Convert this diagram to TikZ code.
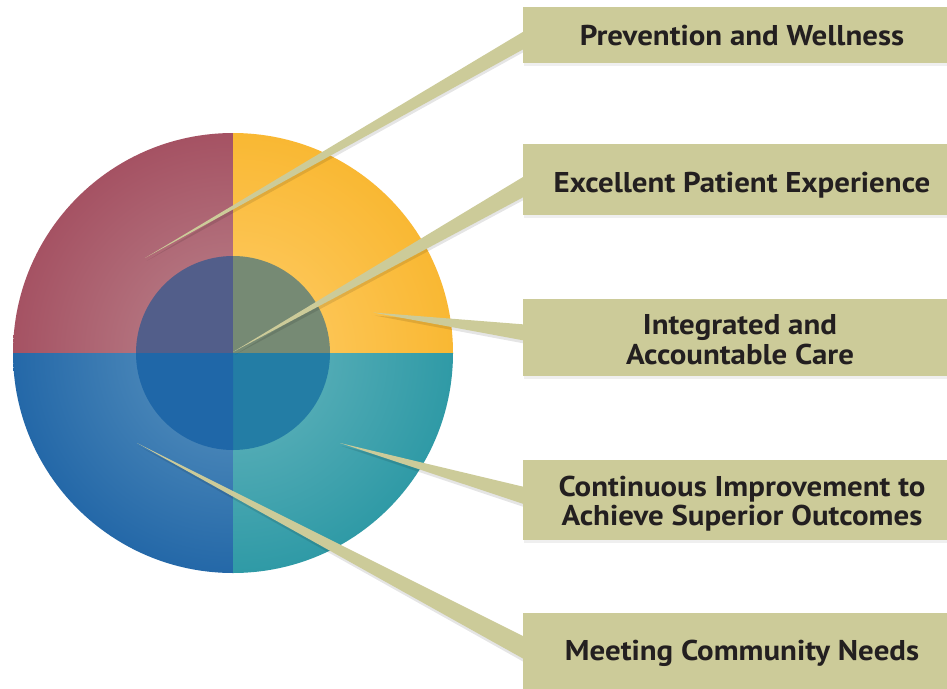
\documentclass[tikz,border=0pt]{standalone}
\usepackage{fontspec}
\setmainfont{PT Sans}[FakeStretch=1.08]
\usetikzlibrary{calc,shadows}
\definecolor{boxc}{HTML}{CCCB99}
\definecolor{txt}{HTML}{231F20}
\definecolor{tlL}{HTML}{B2707C}
\definecolor{tlD}{HTML}{A55263}
\definecolor{trL}{HTML}{FCC452}
\definecolor{trD}{HTML}{F9B833}
\definecolor{blL}{HTML}{4482B6}
\definecolor{blD}{HTML}{2468A8}
\definecolor{brL}{HTML}{50AAB4}
\definecolor{brD}{HTML}{2F9AA6}
\definecolor{itl}{HTML}{525E8A}
\definecolor{itr}{HTML}{768A74}
\definecolor{ibl}{HTML}{1F67A8}
\definecolor{ibr}{HTML}{237DA5}
\pgfdeclareradialshading{tlshade}{\pgfpoint{0bp}{0bp}}{color(0bp)=(tlL); color(11bp)=(tlL); color(25bp)=(tlD); color(50bp)=(tlD)}
\pgfdeclareradialshading{trshade}{\pgfpoint{0bp}{0bp}}{color(0bp)=(trL); color(11bp)=(trL); color(25bp)=(trD); color(50bp)=(trD)}
\pgfdeclareradialshading{blshade}{\pgfpoint{0bp}{0bp}}{color(0bp)=(blL); color(11bp)=(blL); color(25bp)=(blD); color(50bp)=(blD)}
\pgfdeclareradialshading{brshade}{\pgfpoint{0bp}{0bp}}{color(0bp)=(brL); color(11bp)=(brL); color(25bp)=(brD); color(50bp)=(brD)}
\pgfdeclarelayer{bg}
\pgfdeclarelayer{conn}
\pgfsetlayers{bg,conn,main}
\begin{document}
\begin{tikzpicture}[x=1pt,y=-1pt,
  box/.style={fill=boxc, minimum width=436pt, inner sep=0pt,
    drop shadow={opacity=.12, shadow xshift=1pt, shadow yshift=-3pt}},
  lbl/.style={text=txt, align=center, inner sep=0pt, anchor=base,
    font=\bfseries\fontsize{28.6}{29.5}\selectfont},
  wedge/.style={fill=boxc},
  wshadow/.style={fill=black, opacity=.10}]
\useasboundingbox (0,0) rectangle (947,688);
\coordinate (c) at (233,353);
\begin{pgfonlayer}{bg}
\fill[white] (0,0) rectangle (947,688);
% faint halo
\foreach \i in {1,...,15}
  \fill[black, opacity=.0012] (c) circle[radius=220+6*\i];
% outer ring quadrants
\begin{scope}\clip (c) rectangle ++(-221,-221);
  \shade[shading=tlshade] (c) circle[radius=220];\end{scope}
\begin{scope}\clip (c) rectangle ++(221,-221);
  \shade[shading=trshade] (c) circle[radius=220];\end{scope}
\begin{scope}\clip (c) rectangle ++(-221,221);
  \shade[shading=blshade] (c) circle[radius=220];\end{scope}
\begin{scope}\clip (c) rectangle ++(221,221);
  \shade[shading=brshade] (c) circle[radius=220];\end{scope}
% inner circle quadrants
\fill[itl] (c) -- ++(-97,0) arc[start angle=180, end angle=270, radius=97] -- cycle;
\fill[itr] (c) -- ++(0,-97) arc[start angle=270, end angle=360, radius=97] -- cycle;
\fill[ibr] (c) -- ++(97,0) arc[start angle=0, end angle=90, radius=97] -- cycle;
\fill[ibl] (c) -- ++(0,97) arc[start angle=90, end angle=180, radius=97] -- cycle;
\end{pgfonlayer}
% boxes
\node[box, minimum height=56pt] (b1) at (741,35) {};
\node[box, minimum height=70.7pt] (b2) at (741,179.6) {};
\node[box, minimum height=76.7pt] (b3) at (741,337.6) {};
\node[box, minimum height=80pt] (b4) at (741,500) {};
\node[box, minimum height=87pt] (b5) at (741,656.5) {};
% labels
\node[lbl] (l1) at (742,45.5) {Prevention and Wellness};
\node[lbl] (l2) at (742,192.7) {Excellent Patient Experience};
\node[lbl] (l3) at (740,364.3) {Integrated and\\Accountable Care};
\node[lbl] (l4) at (742,525.8) {Continuous Improvement to\\Achieve Superior Outcomes};
\node[lbl] (l5) at (742,660) {Meeting Community Needs};
% tips
\coordinate (t1) at (145,258);
\coordinate (t2) at (233,352);
\coordinate (t3) at (373,312.5);
\coordinate (t4) at (340,443);
\coordinate (t5) at (137,443);
% connectors
\begin{pgfonlayer}{conn}
\foreach \t/\b/\dy/\h in {t1/b1/0/9, t2/b2/2/10.5, t3/b3/-4/8.5, t4/b4/-2/9, t5/b5/-4/11.5}{
  \fill[wshadow] ([shift={(1.5,3)}]\t) -- ([shift={(10,\dy-\h+3)}]\b.west) -- ([shift={(10,\dy+\h+3)}]\b.west) -- cycle;
  \fill[wedge] (\t) -- ([shift={(10,\dy-\h)}]\b.west) -- ([shift={(10,\dy+\h)}]\b.west) -- cycle;
}
\end{pgfonlayer}
\end{tikzpicture}
\end{document}
